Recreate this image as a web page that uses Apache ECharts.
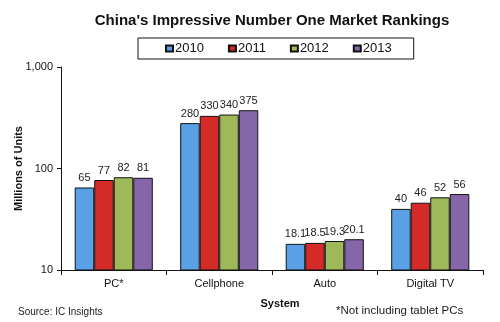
<!DOCTYPE html>
<html>
<head>
<meta charset="utf-8">
<script src="https://cdn.jsdelivr.net/npm/echarts@6/dist/echarts.min.js"></script>
<style>
html,body{margin:0;padding:0;background:#fff;}
#chart{width:500px;height:322px;}
</style>
</head>
<body>
<div id="chart"></div>
<script>
// Unit shipments (millions) by system, log scale
const categories = ['PC*', 'Cellphone', 'Auto', 'Digital TV'];
const years = ['2010', '2011', '2012', '2013'];
const units2010 = [65, 280, 18.1, 40];
const units2011 = [77, 330, 18.5, 46];
const units2012 = [82, 340, 19.3, 52];
const units2013 = [81, 375, 20.1, 56];
const yTicks = [10, 100, 1000];
const colors = ['#5aa0e6', '#d42a28', '#9fb95a', '#8566a8'];

const seriesData = [units2010, units2011, units2012, units2013];
const font = 'Arial, "Liberation Sans", sans-serif';

const chart = echarts.init(document.getElementById('chart'), null, {renderer: 'canvas'});
chart.setOption({
  animation: false,
  title: {
    text: "China's Impressive Number One Market Rankings",
    left: 267, top: 8, textAlign: 'center',
    textStyle: {fontFamily: font, fontSize: 15, fontWeight: 'bold', color: '#111'}
  },
  legend: {
    data: years,
    left: 138, top: 38, width: 278, height: 22,
    padding: [4, 22, 4, 27],
    borderColor: '#111', borderWidth: 1,
    itemWidth: 7, itemHeight: 6, itemGap: 24,
    icon: 'rect',
    textStyle: {fontFamily: font, fontSize: 13, color: '#111', padding: [0, 0, 0, -3]}
  },
  grid: {left: 61, right: 17, top: 67, bottom: 52, containLabel: false, outerBoundsMode: 'none'},
  xAxis: {
    type: 'category',
    data: categories,
    name: 'System', nameLocation: 'middle', nameGap: 28, nameMoveOverlap: false,
    nameTextStyle: {fontFamily: font, fontSize: 11, fontWeight: 'bold', color: '#111', padding: [0, 0, 0, 16]},
    axisLine: {lineStyle: {color: '#111', width: 1}},
    axisTick: {show: true, length: 5, lineStyle: {color: '#111'}},
    axisLabel: {fontFamily: font, fontSize: 11, color: '#111', margin: 8}
  },
  yAxis: {
    type: 'log', logBase: 10, min: 10, max: 1000,
    name: 'Millions of Units', nameLocation: 'middle', nameGap: 37, nameRotate: 90, nameMoveOverlap: false,
    nameTextStyle: {fontFamily: font, fontSize: 11, fontWeight: 'bold', color: '#111'},
    axisLine: {show: true, lineStyle: {color: '#111', width: 1}},
    axisTick: {show: true, inside: false, length: 4, lineStyle: {color: '#111'}},
    splitLine: {show: false},
    axisLabel: {
      fontFamily: font, fontSize: 11, color: '#111', margin: 8,
      formatter: v => yTicks.includes(Math.round(v)) ? Math.round(v).toLocaleString('en-US') : ''
    }
  },
  series: years.map((y, i) => ({
    name: y,
    type: 'bar',
    data: seriesData[i],
    barGap: '0%',
    barCategoryGap: '26%',
    itemStyle: {color: colors[i], borderColor: '#111', borderWidth: 1},
    label: {
      show: true, position: 'top', distance: 4,
      fontFamily: font, fontSize: 11, color: '#222'
    }
  })),
  graphic: [
    {type: 'text', left: 18, top: 307,
      style: {text: 'Source: IC Insights', font: '10px ' + font, fill: '#222'}},
    {type: 'text', left: 336, top: 305,
      style: {text: '*Not including tablet PCs', font: '11.5px ' + font, fill: '#222'}}
  ]
});
</script>
</body>
</html>
